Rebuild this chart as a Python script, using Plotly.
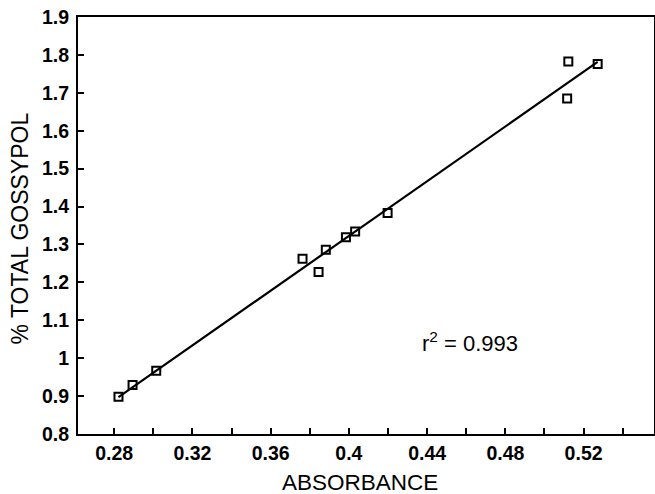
import numpy as np
import plotly.graph_objects as go

absorbance = [0.2822, 0.2894, 0.3015, 0.3763, 0.3845, 0.3882, 0.3985, 0.4032, 0.4198, 0.5122, 0.5116, 0.5272]
gossypol = [0.898, 0.929, 0.967, 1.262, 1.227, 1.286, 1.319, 1.334, 1.383, 1.783, 1.685, 1.776]
r2_label = "r<sup>2</sup> = 0.993"
x_title = "ABSORBANCE"
y_title = "% TOTAL GOSSYPOL"

slope, intercept = np.polyfit(absorbance, gossypol, 1)
line_x = [min(absorbance), max(absorbance)]
line_y = [slope * v + intercept for v in line_x]

FONT = "Liberation Sans, Arial, sans-serif"

fig = go.Figure()
fig.add_trace(go.Scatter(x=line_x, y=line_y, mode="lines",
                         line=dict(color="black", width=2.2), showlegend=False))
fig.add_trace(go.Scatter(x=absorbance, y=gossypol, mode="markers",
                         marker=dict(symbol="square-open", size=8, color="black",
                                     line=dict(width=2, color="black")),
                         showlegend=False))

fig.add_annotation(x=0.462, y=1.042, text=r2_label, showarrow=False,
                   font=dict(family=FONT, size=22, color="black"))
fig.add_annotation(xref="paper", yref="paper", x=0.5, y=0, yshift=-48, xshift=-6,
                   xanchor="center", yanchor="middle", text=x_title, showarrow=False,
                   borderpad=0, font=dict(family=FONT, size=22.5, color="black"))
fig.add_annotation(xref="paper", yref="paper", x=0, y=0.5, xshift=-59, yshift=-3,
                   xanchor="center", yanchor="middle", textangle=-90, text=y_title,
                   showarrow=False, borderpad=0, font=dict(family=FONT, size=23, color="black"))

fig.update_layout(
    width=655, height=494,
    margin=dict(l=78, r=1, t=17, b=60, autoexpand=False),
    paper_bgcolor="white", plot_bgcolor="white",
    font=dict(family=FONT, color="black"),
)
fig.update_xaxes(
    range=[0.2615, 0.556], tick0=0.28, dtick=0.04, ticks="inside", ticklen=6,
    tickwidth=1.5, tickcolor="black", automargin=False,
    minor=dict(ticks="inside", dtick=0.02, tick0=0.28, ticklen=6, tickwidth=1.5, tickcolor="black", showgrid=False),
    showline=True, linecolor="black", linewidth=2, mirror=True, showgrid=False, zeroline=False,
    tickfont=dict(family=FONT, size=19.5, color="black", weight="bold"),
    ticklabelstandoff=1, ticklabeloverflow="allow",
)
fig.update_yaxes(
    range=[0.7999, 1.9001], tick0=0.8, dtick=0.1, ticks="inside", ticklen=6,
    tickwidth=1.5, tickcolor="black", automargin=False,
    showline=True, linecolor="black", linewidth=2, mirror=True, showgrid=False, zeroline=False,
    tickfont=dict(family=FONT, size=19.5, color="black", weight="bold"),
    ticklabelstandoff=3, ticklabeloverflow="allow",
)

# remove the page's default 8px body margin so the figure fills the window exactly
fig.write_html("out.html", config={"displayModeBar": False},
               post_script="document.body.style.margin='0';")
